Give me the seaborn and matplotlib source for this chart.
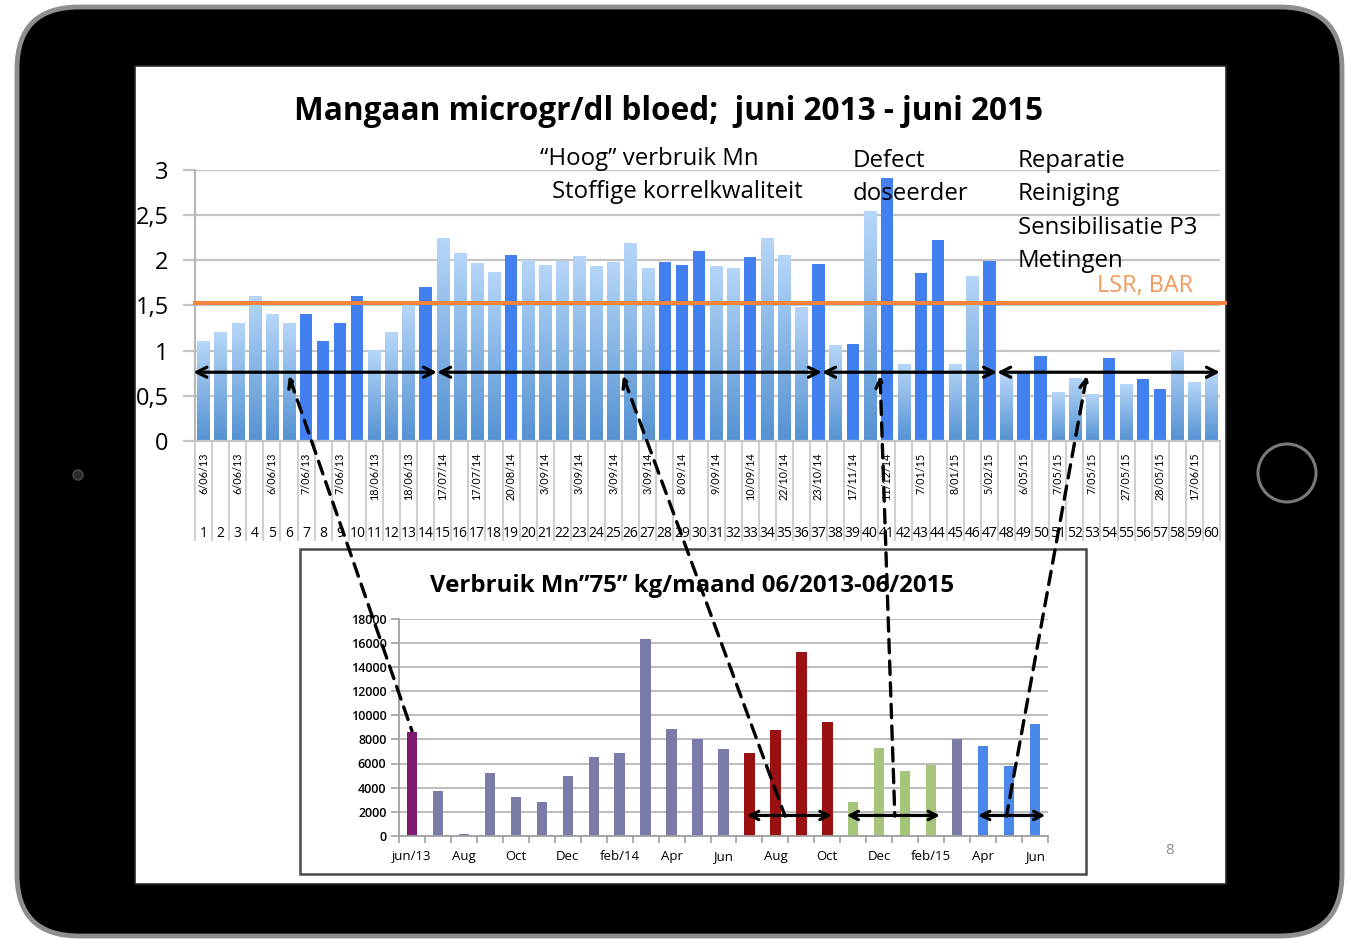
import matplotlib
matplotlib.use('Agg')
import matplotlib.pyplot as plt
import seaborn as sns
import numpy as np
from matplotlib.patches import FancyBboxPatch, Rectangle, Circle, ConnectionPatch
from matplotlib.colors import LinearSegmentedColormap

W, H = 1356, 939

# --- top chart: Mn in blood (microgr/dl), 60 samples ---
bar_no = [str(i) for i in range(1, 61)]
mn_blood = [1.1, 1.2, 1.3, 1.6, 1.4, 1.3, 1.4, 1.1, 1.3, 1.6,
            1.0, 1.2, 1.5, 1.7, 2.24, 2.07, 1.96, 1.86, 2.05, 2.0,
            1.94, 1.98, 2.04, 1.93, 1.97, 2.18, 1.91, 1.98, 1.95, 2.1,
            1.93, 1.91, 2.03, 2.24, 2.05, 1.48, 1.96, 1.06, 1.07, 2.54,
            2.91, 0.85, 1.86, 2.22, 0.85, 1.82, 1.99, 0.74, 0.75, 0.94,
            0.54, 0.69, 0.51, 0.92, 0.62, 0.68, 0.58, 0.99, 0.65, 0.74]
dark_bars = [7, 8, 9, 10, 14, 19, 28, 29, 30, 33, 37, 39, 41, 43, 44, 47, 49, 50, 54, 56, 57]
date_labels = ['6/06/13', '6/06/13', '6/06/13', '7/06/13', '7/06/13', '18/06/13', '18/06/13',
               '17/07/14', '17/07/14', '20/08/14', '3/09/14', '3/09/14', '3/09/14', '3/09/14',
               '8/09/14', '9/09/14', '10/09/14', '22/10/14', '23/10/14', '17/11/14', '11/12/14',
               '7/01/15', '8/01/15', '5/02/15', '6/05/15', '7/05/15', '7/05/15', '27/05/15',
               '28/05/15', '17/06/15']
ytick_vals = [0, 0.5, 1, 1.5, 2, 2.5, 3]
ytick_labels = ['0', '0,5', '1', '1,5', '2', '2,5', '3']
limit_lsr = 1.52
top_spans = [(-0.6, 13.67), (13.67, 36.2), (36.2, 46.45), (46.45, 59.5)]

# --- inset: Mn"75" usage kg/month ---
months = ['jun/13', 'jul/13', 'aug/13', 'sep/13', 'okt/13', 'nov/13', 'dec/13', 'jan/14',
          'feb/14', 'mrt/14', 'apr/14', 'mei/14', 'jun/14', 'jul/14', 'aug/14', 'sep/14',
          'okt/14', 'nov/14', 'dec/14', 'jan/15', 'feb/15', 'mrt/15', 'apr/15', 'mei/15', 'jun/15']
usage = [8600, 3700, 200, 5200, 3200, 2800, 5000, 6500, 6900, 16300, 8850, 8000, 7200,
         6900, 8800, 15200, 9400, 2800, 7300, 5350, 5850, 8000, 7450, 5800, 9300]
month_ticks = ['jun/13', 'Aug', 'Oct', 'Dec', 'feb/14', 'Apr', 'Jun', 'Aug', 'Oct', 'Dec',
               'feb/15', 'Apr', 'Jun']
inset_spans = [(12.9, 16.17), (16.74, 20.34), (21.8, 24.4)]

# connectors: (top x, top y) -> (inset x, inset y)
links = [((5.0, 0.72), (0, 8700)), ((24.55, 0.72), (14.37, 1650)),
         ((39.6, 0.72), (18.6, 1650)), ((51.7, 0.72), (22.9, 1650))]

plt.rcParams['font.family'] = ['Open Sans', 'DejaVu Sans']
narrow = ['Liberation Sans Narrow', 'Lato', 'DejaVu Sans']


def fx(px):
    return px / W


def fy(py):
    return 1 - py / H


fig = plt.figure(figsize=(W / 100, H / 100), dpi=100)

# background: ipad frame + slide, in pixel coords
bg = fig.add_axes([0, 0, 1, 1], zorder=-1)
bg.set_xlim(0, W)
bg.set_ylim(H, 0)
bg.axis('off')
bg.add_patch(FancyBboxPatch((17, 7), 1325, 929, boxstyle='round,pad=0,rounding_size=62',
                            fc='black', ec='#8e8e8e', lw=3.5))
slide = Rectangle((135, 66), 1091, 818, fc='white', ec='#2a2a2a', lw=1.2)
bg.add_patch(slide)
bg.add_patch(Rectangle((300, 549), 786, 325, fc='white', ec='#4a4a4a', lw=1.8))
bg.add_patch(Circle((1287, 473), 29, fc='black', ec='#7a7a7a', lw=2.2))
bg.add_patch(Circle((78, 475), 5, fc='#2c2c2c', ec='#4a4a4a', lw=1))

# ---- top chart ----
ax = fig.add_axes([fx(195), fy(441), 1025 / W, 271.5 / H])
ax.set_facecolor('none')
palette = ['#4280f0' if i in dark_bars else '#8ab8ea' for i in range(1, 61)]
sns.barplot(x=bar_no, y=mn_blood, hue=bar_no, palette=palette, legend=False,
            width=0.72, saturation=1, ax=ax)

cmap = LinearSegmentedColormap.from_list('lb', ['#5592d2', '#b6d6f8'])
grad = np.linspace(0, 1, 256).reshape(-1, 1)
for n, patch in zip(range(1, 61), ax.patches):
    if n in dark_bars:
        continue
    x0, w, h = patch.get_x(), patch.get_width(), patch.get_height()
    ax.imshow(grad, extent=(x0, x0 + w, 0, h), cmap=cmap, aspect='auto',
              origin='lower', zorder=patch.get_zorder())
    patch.set_visible(False)

ax.set_xlim(-0.5, 59.5)
ax.set_ylim(0, 3)
ax.set_xlabel('')
ax.set_ylabel('')
ax.set_yticks(ytick_vals)
ax.set_yticklabels(ytick_labels)
ax.yaxis.grid(True, color='#c4c4c4', lw=1.6)
ax.set_axisbelow(True)
ax.tick_params(axis='y', length=9, width=1.6, color='#c4c4c4', labelsize=17, pad=10)
ax.tick_params(axis='x', length=0, labelbottom=False)
for s in ['top', 'right']:
    ax.spines[s].set_visible(False)
ax.spines['left'].set_color('#b8b8b8')
ax.spines['left'].set_linewidth(1.6)
ax.spines['bottom'].set_color('#c4c4c4')
ax.spines['bottom'].set_linewidth(1.6)
for t in ax.get_yticklabels():
    t.set_clip_on(True)
    t.set_clip_path(slide)

xt = ax.get_xaxis_transform()
ax.vlines(np.arange(-0.5, 60, 1), -0.368, 0, transform=xt, colors='#cfcfcf', lw=1.5, clip_on=False)
for k, lab in enumerate(date_labels):
    ax.text(2 * k, -0.042, lab, rotation=90, ha='center', va='top', fontsize=7.8,
            family=narrow, transform=xt, clip_on=False)
for i, lab in enumerate(bar_no):
    ax.text(i, -0.339, lab, ha='center', va='center', fontsize=10, transform=xt, clip_on=False)

ax.axhline(limit_lsr, color='#f4843a', lw=2.8, xmax=1.005, clip_on=False, zorder=4)
for a, b in top_spans:
    ax.annotate('', xy=(b, 0.76), xytext=(a, 0.76),
                arrowprops=dict(arrowstyle='<->', lw=2.3, color='black', shrinkA=0, shrinkB=0,
                                mutation_scale=18), annotation_clip=False, zorder=5)

# ---- inset chart ----
ax_in = fig.add_axes([fx(399), fy(836), 649 / W, 217.5 / H])
ax_in.set_facecolor('none')
in_colors = (['#7d1a6f'] + ['#7b7ba9'] * 12 + ['#9a1111'] * 4 + ['#a7c47b'] * 4
             + ['#7b7ba9'] + ['#4a88ec'] * 3)
sns.barplot(x=months, y=usage, hue=months, palette=in_colors, legend=False,
            width=0.4, saturation=1, ax=ax_in)
ax_in.set_xlim(-0.5, 24.5)
ax_in.set_ylim(0, 18000)
ax_in.set_xlabel('')
ax_in.set_ylabel('')
ax_in.set_yticks(np.arange(0, 18001, 2000))
ax_in.set_yticklabels([str(v) for v in range(0, 18001, 2000)])
ax_in.set_xticks(range(0, 25, 2))
ax_in.set_xticklabels(month_ticks)
ax_in.set_xticks(np.arange(-0.5, 25, 1), minor=True)
ax_in.yaxis.grid(True, color='#b8b8b8', lw=1.3)
ax_in.set_axisbelow(True)
ax_in.tick_params(axis='y', length=6, width=1.2, color='#a0a0a0', labelsize=9, pad=3)
for t in ax_in.get_yticklabels():
    t.set_fontweight('semibold')
ax_in.tick_params(axis='x', which='major', length=0, labelsize=9.5, pad=10)
ax_in.tick_params(axis='x', which='minor', length=5, width=1.2, color='#a0a0a0')
for s in ['top', 'right']:
    ax_in.spines[s].set_visible(False)
for s in ['left', 'bottom']:
    ax_in.spines[s].set_color('#a0a0a0')
    ax_in.spines[s].set_linewidth(1.3)
for a, b in inset_spans:
    ax_in.annotate('', xy=(b, 1700), xytext=(a, 1700),
                   arrowprops=dict(arrowstyle='<->', lw=2.3, color='black', shrinkA=0, shrinkB=0,
                                   mutation_scale=15), annotation_clip=False, zorder=5)

# dashed connectors (transData avoids categorical unit conversion)
for (pa, pb) in links:
    con = ConnectionPatch(xyA=pa, coordsA=ax.transData, xyB=pb, coordsB=ax_in.transData,
                          arrowstyle='<-', mutation_scale=16, lw=2.4, color='black',
                          linestyle=(0, (4, 2.5)), zorder=6)
    fig.add_artist(con)

# texts
fig.text(fx(669), fy(112), 'Mangaan microgr/dl bloed;  juni 2013 - juni 2015', ha='center',
         va='center', fontsize=22.7, fontweight='bold')
txt = dict(ha='left', va='center', fontsize=17.3)
fig.text(fx(540), fy(159), '\u201cHoog\u201d verbruik Mn', **txt)
fig.text(fx(552), fy(192), 'Stoffige korrelkwaliteit', **txt)
fig.text(fx(853), fy(161), 'Defect', **txt)
fig.text(fx(853), fy(194), 'doseerder', **txt)
fig.text(fx(1018), fy(161), 'Reparatie', **txt)
fig.text(fx(1018), fy(194), 'Reiniging', **txt)
fig.text(fx(1018), fy(228), 'Sensibilisatie P3', **txt)
fig.text(fx(1018), fy(261), 'Metingen', **txt)
fig.text(fx(1097), fy(286), 'LSR, BAR', ha='left', va='center', fontsize=16.8, color='#f39a5b')
fig.text(fx(692), fy(586), 'Verbruik Mn\u201d75\u201d kg/maand 06/2013-06/2015', ha='center',
         va='center', fontsize=17.3, fontweight='bold')
fig.text(fx(1170), fy(851), '8', ha='center', va='center', fontsize=11, color='#8c8c8c')

fig.savefig('out.png', dpi=100)
